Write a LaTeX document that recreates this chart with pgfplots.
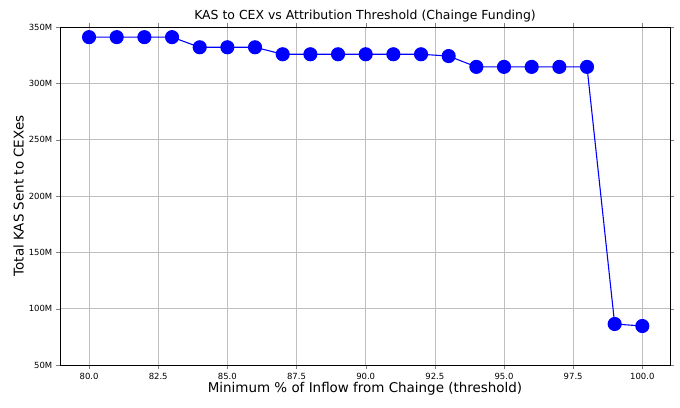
\documentclass[border=0pt]{standalone}
\usepackage{pgfplots}
\pgfplotsset{compat=1.18}
\usepackage{fontspec}
\setmainfont{DejaVu Sans}
\begin{document}
\begin{tikzpicture}
\path[use as bounding box] (-60bp,-43bp) rectangle (620bp,365bp);
\begin{axis}[
  scale only axis, width=610bp, height=338bp,
  at={(0,0)}, anchor=south west,
  xmin=78.95, xmax=101.0, ymin=50, ymax=350,
  xtick={80,82.5,85,87.5,90,92.5,95,97.5,100},
  xticklabels={80.0,82.5,85.0,87.5,90.0,92.5,95.0,97.5,100.0},
  ytick={50,100,150,200,250,300,350},
  yticklabels={50M,100M,150M,200M,250M,300M,350M},
  grid=major, grid style={gray!50},
  tick label style={font=\fontsize{8.5}{10}\selectfont},
  tick align=outside,
  title={KAS to CEX vs Attribution Threshold (Chainge Funding)},
  title style={font=\fontsize{12.5}{14}\selectfont, yshift=-5bp},
  xlabel={Minimum \% of Inflow from Chainge (threshold)},
  ylabel={Total KAS Sent to CEXes},
  label style={font=\fontsize{13.5}{15}\selectfont},
  xlabel style={yshift=4bp}, ylabel style={yshift=-2bp},
]
\addplot[blue, line width=1.1pt, mark=*, mark size=6.5bp, mark options={fill=blue}] coordinates {
(80,341)(81,341)(82,341)(83,341)(84,332)(85,332)(86,332)(87,325.8)(88,325.8)(89,325.8)(90,325.8)(91,325.8)(92,325.8)(93,324.2)(94,314.6)(95,314.6)(96,314.6)(97,314.6)(98,314.6)(99,86.4)(100,84.6)};
\end{axis}
\end{tikzpicture}
\end{document}
